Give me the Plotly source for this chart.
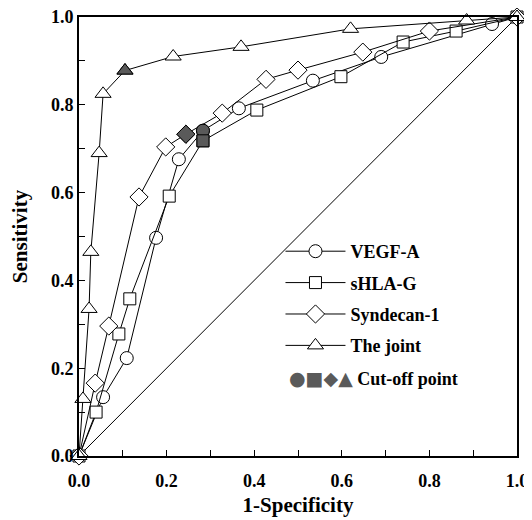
import plotly.graph_objects as go

# ---- data ----
vegf_x = [0.0, 0.055, 0.109, 0.176, 0.228, 0.283, 0.365, 0.534, 0.690, 0.943, 1.0]
vegf_y = [0.0, 0.134, 0.223, 0.497, 0.676, 0.741, 0.792, 0.855, 0.909, 0.984, 1.0]
vegf_cut = 5

shla_x = [0.0, 0.039, 0.091, 0.116, 0.206, 0.283, 0.406, 0.598, 0.740, 0.861, 1.0]
shla_y = [0.0, 0.100, 0.278, 0.358, 0.592, 0.718, 0.788, 0.864, 0.943, 0.968, 1.0]
shla_cut = 5

synd_x = [0.0, 0.037, 0.068, 0.137, 0.198, 0.244, 0.327, 0.427, 0.500, 0.648, 0.800, 1.0]
synd_y = [0.0, 0.166, 0.296, 0.590, 0.704, 0.733, 0.781, 0.858, 0.879, 0.920, 0.968, 1.0]
synd_cut = 5

joint_x = [0.0, 0.009, 0.023, 0.027, 0.046, 0.055, 0.105, 0.215, 0.370, 0.620, 0.885, 1.0]
joint_y = [0.0, 0.130, 0.335, 0.465, 0.690, 0.825, 0.878, 0.910, 0.932, 0.973, 0.992, 1.0]
joint_cut = 6

series_names = ["VEGF-A", "sHLA-G", "Syndecan-1", "The joint"]
tick_vals = [0.0, 0.1, 0.2, 0.3, 0.4, 0.5, 0.6, 0.7, 0.8, 0.9, 1.0]
tick_text = ["0.0", "", "0.2", "", "0.4", "", "0.6", "", "0.8", "", "1.0"]
diag = [0.0, 1.0]

FONT = "Liberation Serif"
CUT_COLOR = "#5a5a5a"

fig = go.Figure()

# reference diagonal
fig.add_trace(go.Scatter(x=diag, y=diag, mode="lines",
                         line=dict(color="black", width=1),
                         showlegend=False, hoverinfo="skip"))

series = [
    (vegf_x, vegf_y, vegf_cut, "circle", 13),
    (shla_x, shla_y, shla_cut, "square", 12),
    (synd_x, synd_y, synd_cut, "diamond", 14),
    (joint_x, joint_y, joint_cut, "triangle-up", 14),
]

for i, (xs, ys, cut, sym, sz) in enumerate(series):
    fig.add_trace(go.Scatter(
        x=xs, y=ys, mode="lines+markers", name=series_names[i],
        legendgroup=series_names[i],
        line=dict(color="black", width=1),
        marker=dict(symbol=sym, size=sz, color="white",
                    line=dict(color="black", width=1)),
        cliponaxis=False,
    ))

for i, (xs, ys, cut, sym, sz) in enumerate(series):
    fig.add_trace(go.Scatter(
        x=[xs[cut]], y=[ys[cut]], mode="markers", showlegend=False,
        marker=dict(symbol=sym, size=sz, color=CUT_COLOR,
                    line=dict(color="black", width=1)),
        cliponaxis=False,
    ))

axis_common = dict(
    range=[0, 1], tickvals=tick_vals, ticktext=tick_text,
    ticks="inside", ticklen=6, tickwidth=1, tickcolor="black",
    showline=True, linecolor="black", linewidth=2, mirror=True,
    showgrid=False, zeroline=False, automargin=False,
    ticklabeloverflow="allow",
    tickfont=dict(family=FONT, size=18, color="black", weight="bold"),
)

# the page body has an 8px margin, so the figure is drawn 8px smaller
fig.update_layout(
    width=524, height=512,
    margin=dict(l=71, r=15, t=9, b=64, autoexpand=False),
    paper_bgcolor="white", plot_bgcolor="white",
    font=dict(family=FONT, color="black"),
    xaxis=dict(**axis_common, ticklabelstandoff=7,
               title=dict(text="<b>1-Specificity</b>", standoff=8,
                          font=dict(family=FONT, size=21, color="black"))),
    yaxis=dict(**axis_common,
               title=dict(text="<b>Sensitivity</b>", standoff=20,
                          font=dict(family=FONT, size=21, color="black"))),
    legend=dict(x=0.46, y=0.508, xanchor="left", yanchor="top",
                bgcolor="rgba(0,0,0,0)", borderwidth=0,
                font=dict(family=FONT, size=18, color="black", weight="bold"),
                itemwidth=60, tracegroupgap=5, traceorder="grouped"),
    showlegend=True,
    annotations=[dict(
        xref="paper", yref="paper", x=0.475, y=0.178, xanchor="left", yanchor="middle",
        showarrow=False,
        text="<span style='color:#5a5a5a;font-family:DejaVu Sans;font-size:19px'>●■◆▲</span> <b>Cut-off point</b>",
        font=dict(family=FONT, size=18, color="black"),
    )],
)

fig.write_html("out.html")
